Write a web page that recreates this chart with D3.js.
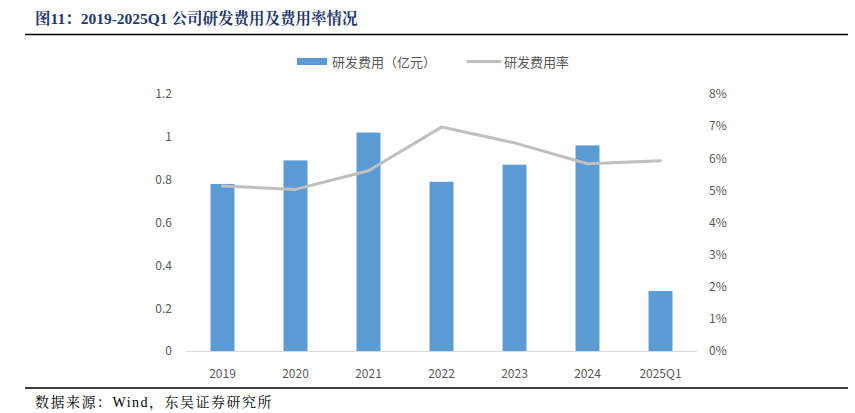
<!DOCTYPE html>
<html><head><meta charset="utf-8">
<script src="https://cdn.jsdelivr.net/npm/d3@7"></script>
<style>body{margin:0;background:#fff}svg{display:block}</style>
</head><body>
<svg id="c" width="855" height="413"></svg>
<script>
const categories = ["2019","2020","2021","2022","2023","2024","2025Q1"];
const rdExpense = [0.78, 0.89, 1.02, 0.79, 0.87, 0.96, 0.28];
const rdRate = [0.0514, 0.0503, 0.0561, 0.0697, 0.0648, 0.0583, 0.0592];
const leftTicks = [0, 0.2, 0.4, 0.6, 0.8, 1, 1.2];
const rightTicks = [0, 0.01, 0.02, 0.03, 0.04, 0.05, 0.06, 0.07, 0.08];
const titleText = "图11：2019-2025Q1 公司研发费用及费用率情况";
const sourceText = "数据来源：Wind，东吴证券研究所";
const legendLabels = ["研发费用（亿元）", "研发费用率"];

const svg = d3.select("#c");
const x = d3.scaleBand().domain(categories).range([186, 697]).paddingInner(0.672).paddingOuter(0.336);
const yL = d3.scaleLinear().domain([0, 1.2]).range([351, 94]);
const yR = d3.scaleLinear().domain([0, 0.08]).range([351, 94]);
const sans = "'Microsoft YaHei','Noto Sans CJK SC','DejaVu Sans',sans-serif";
const serif = "'Times New Roman','Liberation Serif','Noto Serif CJK SC','Noto Sans CJK SC',serif";

// title
svg.append("text").attr("x", 35).attr("y", 24).attr("font-family", serif)
  .attr("font-weight", "bold").attr("font-size", 15.5).attr("fill", "#1F3A6E").text(titleText);
svg.append("line").attr("x1", 25).attr("x2", 848).attr("y1", 34.5).attr("y2", 34.5).attr("stroke", "#000").attr("stroke-width", 1.5);
svg.append("line").attr("x1", 25).attr("x2", 848).attr("y1", 388).attr("y2", 388).attr("stroke", "#000").attr("stroke-width", 1.5);
svg.append("text").attr("x", 35).attr("y", 407).attr("font-family", serif)
  .attr("font-size", 14).attr("letter-spacing", 1.5).attr("fill", "#000").text(sourceText);

// bars
svg.append("g").selectAll("rect").data(categories).join("rect")
  .attr("x", d => x(d)).attr("width", x.bandwidth())
  .attr("y", (d, i) => yL(rdExpense[i])).attr("height", (d, i) => yL(0) - yL(rdExpense[i]))
  .attr("fill", "#5B9BD5");

// x axis line
svg.append("line").attr("x1", 186).attr("x2", 697).attr("y1", 351.5).attr("y2", 351.5).attr("stroke", "#D9D9D9").attr("stroke-width", 1);

// line
const line = d3.line().x((d, i) => x(categories[i]) + x.bandwidth() / 2).y(d => yR(d));
svg.append("path").datum(rdRate).attr("d", line).attr("fill", "none")
  .attr("stroke", "#BFBFBF").attr("stroke-width", 3).attr("stroke-linejoin", "round").attr("stroke-linecap", "round");

// axes
const gL = svg.append("g").attr("transform", "translate(172,0)")
  .call(d3.axisLeft(yL).tickValues(leftTicks).tickSize(0).tickPadding(0).tickFormat(d => d3.format("")(+d.toFixed(1))));
const gR = svg.append("g").attr("transform", "translate(709,0)")
  .call(d3.axisRight(yR).tickValues(rightTicks).tickSize(0).tickPadding(0).tickFormat(d3.format(".0%")));
const gX = svg.append("g").attr("transform", "translate(0,351)")
  .call(d3.axisBottom(x).tickSize(0).tickPadding(18));
[gL, gR, gX].forEach(g => {
  g.select(".domain").remove();
  g.selectAll("text").attr("font-family", sans).attr("font-size", 12).attr("fill", "#595959");
});

// legend
const lg = svg.append("g");
lg.append("rect").attr("x", 297).attr("y", 58).attr("width", 30).attr("height", 7).attr("fill", "#5B9BD5");
lg.append("text").attr("x", 332).attr("y", 66.5).attr("font-family", sans).attr("font-size", 13).attr("fill", "#595959").text(legendLabels[0]);
lg.append("line").attr("x1", 468).attr("x2", 500).attr("y1", 61.5).attr("y2", 61.5).attr("stroke", "#BFBFBF").attr("stroke-width", 3).attr("stroke-linecap", "round");
lg.append("text").attr("x", 504).attr("y", 66.5).attr("font-family", sans).attr("font-size", 13).attr("fill", "#595959").text(legendLabels[1]);
</script>
</body></html>
